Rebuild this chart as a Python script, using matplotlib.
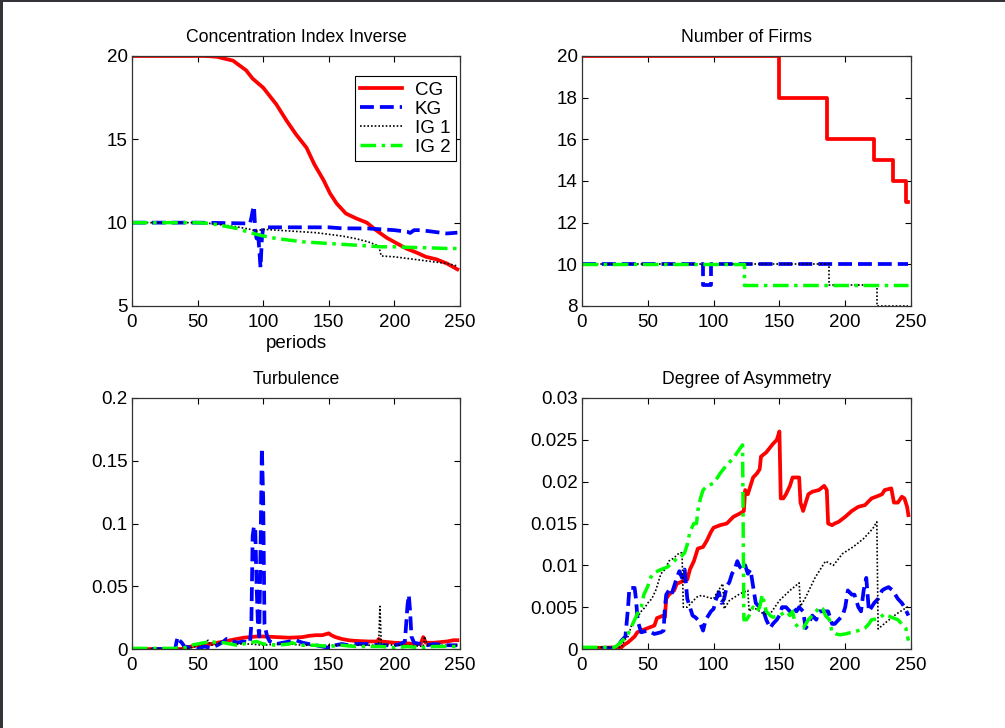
import matplotlib
matplotlib.use("Agg")
import matplotlib.pyplot as plt
from matplotlib.patches import Rectangle

plt.rcParams["font.family"] = ["Liberation Sans", "DejaVu Sans"]

# ---- Concentration Index Inverse (period, value) ----
conc_cg_t = [0, 55, 60, 65, 70, 77, 87, 92, 100, 105, 110, 118, 125, 133, 139, 146,
             151, 156, 163, 171, 179, 186, 194, 202, 209, 217, 224, 232, 240, 248]
conc_cg_v = [20, 20, 19.98, 19.95, 19.85, 19.72, 19.14, 18.64, 18.1, 17.6, 17.1, 16.1,
             15.3, 14.5, 13.5, 12.55, 11.75, 11.15, 10.55, 10.25, 10.0, 9.55, 9.1,
             8.75, 8.45, 8.2, 7.95, 7.8, 7.55, 7.2]
conc_kg_t = [0, 50, 90, 91, 92, 93, 94, 95, 96, 97, 98, 99, 100, 150, 160, 180, 190,
             200, 210, 212, 215, 220, 230, 240, 248]
conc_kg_v = [10, 10, 9.95, 10.3, 10.7, 11.0, 9.5, 9.05, 9.5, 8.4, 7.3, 9.0, 9.72, 9.72,
             9.66, 9.65, 9.6, 9.55, 9.45, 9.38, 9.55, 9.55, 9.45, 9.35, 9.4]
conc_ig1_t = [0, 50, 60, 70, 80, 90, 95, 100, 110, 120, 130, 140, 150, 160, 170, 180,
              188, 190, 200, 210, 220, 230, 240, 248]
conc_ig1_v = [10, 10, 9.95, 9.85, 9.75, 9.6, 9.5, 9.6, 9.55, 9.5, 9.45, 9.4, 9.3, 9.2,
              9.05, 8.85, 8.6, 8.0, 7.95, 7.85, 7.75, 7.65, 7.55, 7.4]
conc_ig2_t = [0, 50, 60, 70, 80, 90, 95, 100, 110, 120, 130, 140, 150, 160, 170, 180,
              190, 200, 210, 220, 230, 240, 248]
conc_ig2_v = [10, 10, 9.95, 9.8, 9.65, 9.4, 9.3, 9.2, 9.05, 8.95, 8.85, 8.8, 8.75, 8.7,
              8.65, 8.6, 8.55, 8.55, 8.52, 8.5, 8.48, 8.45, 8.45]

# ---- Number of firms: step changes (period where new level starts) ----
firms_cg_t = [0, 150, 186, 222, 236, 246, 248]
firms_cg_v = [20, 18, 16, 15, 14, 13, 13]
firms_kg_t = [0, 92, 98, 248]
firms_kg_v = [10, 9, 10, 10]
firms_ig1_t = [0, 188, 224, 248]
firms_ig1_v = [10, 9, 8, 8]
firms_ig2_t = [0, 123, 248]
firms_ig2_v = [10, 9, 9]

# ---- Turbulence ----
turb_cg_t = [0, 38, 40, 45, 50, 60, 70, 80, 85, 90, 95, 100, 110, 120, 130, 135, 140,
             145, 150, 152, 155, 160, 165, 170, 180, 187, 188, 190, 200, 210, 215, 220,
             222, 224, 230, 240, 245, 248]
turb_cg_v = [0, 0, 0.001, 0.002, 0.003, 0.004, 0.006, 0.008, 0.009, 0.0095, 0.01, 0.01,
             0.0095, 0.009, 0.0095, 0.0105, 0.011, 0.011, 0.0125, 0.011, 0.0095, 0.008,
             0.007, 0.0065, 0.006, 0.006, 0.008, 0.006, 0.005, 0.0045, 0.004, 0.004,
             0.0095, 0.005, 0.005, 0.006, 0.007, 0.007]
turb_kg_t = [0, 33, 34, 35, 36, 38, 40, 45, 50, 55, 60, 65, 70, 72, 75, 80, 85, 90, 91,
             92, 93, 94, 95, 96, 97, 98, 99, 100, 101, 103, 105, 110, 120, 125, 130,
             140, 145, 150, 155, 160, 165, 170, 180, 190, 200, 205, 208, 209, 210, 211,
             212, 213, 215, 220, 225, 230, 240, 248]
turb_kg_v = [0, 0, 0.006, 0.0096, 0.007, 0.005, 0.002, 0.001, 0.0, 0.002, 0.001, 0.003,
             0.006, 0.008, 0.007, 0.005, 0.006, 0.005, 0.02, 0.09, 0.098, 0.095, 0.05,
             0.02, 0.01, 0.08, 0.16, 0.12, 0.02, 0.01, 0.006, 0.004, 0.006, 0.007, 0.005,
             0.003, 0.002, 0.001, 0.003, 0.004, 0.003, 0.004, 0.004, 0.003, 0.003, 0.004,
             0.006, 0.02, 0.035, 0.043, 0.03, 0.01, 0.005, 0.004, 0.003, 0.004, 0.003,
             0.003]
turb_ig1_t = [0, 40, 45, 55, 58, 60, 70, 80, 90, 100, 110, 120, 130, 150, 170, 185, 188,
              189, 190, 200, 210, 222, 223, 225, 248]
turb_ig1_v = [0, 0, 0.001, 0.004, 0.007, 0.003, 0.005, 0.004, 0.004, 0.003, 0.004, 0.004,
              0.003, 0.003, 0.003, 0.003, 0.004, 0.034, 0.004, 0.003, 0.003, 0.002, 0.01,
              0.003, 0.003]
turb_ig2_t = [0, 33, 35, 40, 45, 50, 55, 60, 65, 70, 75, 80, 85, 90, 95, 100, 110, 120,
              122, 125, 130, 140, 150, 160, 170, 180, 190, 200, 210, 220, 230, 240, 248]
turb_ig2_v = [0.0005, 0.0005, 0.001, 0.001, 0.003, 0.004, 0.005, 0.006, 0.005, 0.005,
              0.004, 0.003, 0.004, 0.005, 0.006, 0.004, 0.003, 0.004, 0.005, 0.004, 0.003,
              0.003, 0.002, 0.003, 0.002, 0.002, 0.002, 0.001, 0.002, 0.001, 0.002, 0.002,
              0.002]

# ---- Degree of asymmetry ----
asym_cg_t = [0, 30, 32, 35, 40, 42, 45, 50, 55, 57, 62, 63, 64, 66, 70, 72, 75, 80, 82,
             85, 88, 92, 95, 98, 100, 105, 110, 115, 120, 123, 124, 126, 128, 130, 133,
             135, 136, 140, 145, 148, 150, 151, 153, 155, 158, 160, 165, 166, 168, 170,
             172, 175, 180, 184, 186, 187, 190, 192, 195, 200, 205, 210, 215, 220, 225,
             228, 230, 235, 237, 240, 243, 245, 247, 248]
asym_cg_v = [0.0001, 0.0002, 0.0005, 0.0008, 0.0015, 0.002, 0.0022, 0.0025, 0.0028,
             0.0037, 0.004, 0.0038, 0.006, 0.0065, 0.007, 0.0078, 0.008, 0.0083, 0.0095,
             0.0105, 0.012, 0.0122, 0.013, 0.014, 0.0145, 0.0148, 0.015, 0.0158, 0.0162,
             0.0165, 0.019, 0.0185, 0.0195, 0.0205, 0.021, 0.0215, 0.023, 0.0235, 0.0245,
             0.025, 0.026, 0.018, 0.018, 0.0185, 0.0195, 0.0205, 0.0205, 0.0175, 0.0165,
             0.0175, 0.0185, 0.0188, 0.019, 0.0195, 0.019, 0.015, 0.0148, 0.015, 0.0152,
             0.0158, 0.0165, 0.017, 0.0172, 0.018, 0.0183, 0.0185, 0.019, 0.0192, 0.0175,
             0.0175, 0.0182, 0.018, 0.017, 0.016]
asym_kg_t = [0, 25, 28, 30, 33, 35, 36, 40, 41, 42, 43, 45, 50, 55, 60, 62, 63, 64, 66,
             68, 70, 72, 74, 76, 78, 80, 82, 84, 86, 88, 90, 92, 94, 96, 98, 100, 102,
             104, 106, 108, 110, 112, 114, 116, 118, 120, 122, 124, 126, 128, 130, 132,
             135, 138, 140, 143, 145, 148, 150, 152, 155, 158, 160, 163, 165, 168, 170,
             172, 175, 178, 180, 183, 187, 190, 192, 195, 198, 200, 202, 205, 207, 210,
             212, 214, 216, 218, 220, 222, 225, 228, 230, 233, 236, 238, 240, 243, 245,
             248]
asym_kg_v = [0.0001, 0.0001, 0.0005, 0.001, 0.0015, 0.005, 0.0073, 0.0073, 0.006, 0.004,
             0.003, 0.002, 0.0022, 0.0018, 0.002, 0.0022, 0.005, 0.0065, 0.007, 0.0065,
             0.0075, 0.0085, 0.0093, 0.0085, 0.0095, 0.006, 0.005, 0.004, 0.0038, 0.0035,
             0.003, 0.0022, 0.0035, 0.004, 0.0045, 0.0048, 0.006, 0.0068, 0.0055, 0.006,
             0.0075, 0.008, 0.009, 0.0095, 0.0105, 0.0098, 0.0095, 0.01, 0.009, 0.0095,
             0.0075, 0.0055, 0.005, 0.0045, 0.0035, 0.0025, 0.003, 0.0035, 0.004, 0.005,
             0.005, 0.0045, 0.005, 0.0045, 0.005, 0.0045, 0.0025, 0.003, 0.004, 0.0035,
             0.0045, 0.0045, 0.0045, 0.003, 0.003, 0.0035, 0.004, 0.005, 0.007, 0.0065,
             0.0065, 0.005, 0.0045, 0.007, 0.0085, 0.0045, 0.005, 0.0055, 0.006, 0.007,
             0.0072, 0.0074, 0.007, 0.0065, 0.006, 0.0055, 0.005, 0.004]
asym_ig1_t = [0, 30, 32, 35, 38, 40, 43, 45, 48, 50, 53, 56, 58, 60, 63, 66, 69, 72, 74,
              76, 77, 80, 83, 86, 88, 91, 95, 100, 102, 107, 108, 112, 120, 126, 127,
              130, 138, 143, 150, 158, 165, 166, 170, 177, 185, 191, 198, 206, 214, 221,
              224, 225, 231, 239, 247, 248]
asym_ig1_v = [0.0002, 0.0002, 0.001, 0.0015, 0.003, 0.0035, 0.004, 0.0045, 0.005, 0.0055,
              0.006, 0.007, 0.008, 0.009, 0.0095, 0.0105, 0.0108, 0.0112, 0.0115, 0.0115,
              0.005, 0.005, 0.0055, 0.006, 0.0063, 0.0064, 0.0062, 0.006, 0.0066, 0.0078,
              0.0048, 0.0058, 0.0066, 0.007, 0.0045, 0.005, 0.0042, 0.0042, 0.0058, 0.007,
              0.0079, 0.0051, 0.0062, 0.0085, 0.0105, 0.010, 0.0114, 0.0122, 0.0132,
              0.0144, 0.0152, 0.0024, 0.0032, 0.0042, 0.005, 0.005]
asym_ig2_t = [0, 25, 28, 32, 35, 38, 40, 43, 45, 47, 50, 52, 54, 56, 60, 65, 70, 73, 75,
              78, 80, 82, 85, 87, 88, 90, 92, 95, 100, 103, 105, 110, 115, 118, 122, 123,
              125, 127, 128, 130, 133, 135, 137, 140, 143, 145, 150, 155, 158, 160, 162,
              165, 168, 170, 172, 175, 178, 180, 183, 185, 188, 190, 193, 196, 200, 205,
              210, 215, 218, 220, 225, 230, 235, 240, 243, 246, 248]
asym_ig2_v = [0.0002, 0.0002, 0.0006, 0.0012, 0.0018, 0.0028, 0.0035, 0.0045, 0.005,
              0.0065, 0.0075, 0.0085, 0.009, 0.0092, 0.0095, 0.0098, 0.0105, 0.011, 0.011,
              0.0115, 0.0125, 0.014, 0.015, 0.015, 0.0165, 0.018, 0.019, 0.0195, 0.0198,
              0.0205, 0.021, 0.022, 0.0228, 0.0235, 0.0244, 0.0035, 0.0035, 0.004, 0.0045,
              0.005, 0.0045, 0.005, 0.0065, 0.0045, 0.004, 0.0038, 0.004, 0.0045, 0.004,
              0.0045, 0.003, 0.0025, 0.0025, 0.003, 0.0035, 0.004, 0.0045, 0.005, 0.0048,
              0.004, 0.0035, 0.002, 0.0018, 0.0017, 0.0018, 0.002, 0.0022, 0.0025, 0.003,
              0.0035, 0.0036, 0.0042, 0.0038, 0.0035, 0.003, 0.0025, 0.001]

LABELS = ["CG", "KG", "IG 1", "IG 2"]
STYLES = [
    dict(color="#ff0000", lw=2.7, ls="-"),
    dict(color="#0000ff", lw=2.7, ls=(0, (3.7, 1.6))),
    dict(color="#000000", lw=1.2, ls=(0, (1, 1.2))),
    dict(color="#00ff00", lw=2.5, ls=(0, (4.5, 1.6, 1, 1.6))),
]


def style_axes(ax, title, ylim, yticks):
    ax.set_xlim(0, 250)
    ax.set_ylim(*ylim)
    ax.set_xticks([0, 50, 100, 150, 200, 250])
    ax.set_yticks(yticks)
    ax.set_title(title, fontsize=12.7, pad=10)
    ax.tick_params(direction="in", top=True, right=True, length=4, width=0.8,
                   labelsize=13.5, pad=3)
    ax.tick_params(axis="x", pad=6)
    for s in ax.spines.values():
        s.set_linewidth(0.9)
        s.set_color("#333333")


fig = plt.figure(figsize=(10.05, 7.28), dpi=100)
fig.patch.set_facecolor("white")

ax1 = fig.add_axes([0.1313, 0.5797, 0.3264, 0.3434])
ax2 = fig.add_axes([0.5791, 0.5797, 0.3274, 0.3434])
ax3 = fig.add_axes([0.1313, 0.1085, 0.3264, 0.3448])
ax4 = fig.add_axes([0.5791, 0.1085, 0.3274, 0.3448])

conc = [(conc_cg_t, conc_cg_v), (conc_kg_t, conc_kg_v),
        (conc_ig1_t, conc_ig1_v), (conc_ig2_t, conc_ig2_v)]
firms = [(firms_cg_t, firms_cg_v), (firms_kg_t, firms_kg_v),
         (firms_ig1_t, firms_ig1_v), (firms_ig2_t, firms_ig2_v)]
turb = [(turb_cg_t, turb_cg_v), (turb_kg_t, turb_kg_v),
        (turb_ig1_t, turb_ig1_v), (turb_ig2_t, turb_ig2_v)]
asym = [(asym_cg_t, asym_cg_v), (asym_kg_t, asym_kg_v),
        (asym_ig1_t, asym_ig1_v), (asym_ig2_t, asym_ig2_v)]

for (t, v), st, lab in zip(conc, STYLES, LABELS):
    ax1.plot(t, v, label=lab, **st)
for (t, v), st in zip(firms, STYLES):
    ax2.plot(t, v, drawstyle="steps-post", **st)
for (t, v), st in zip(turb, STYLES):
    ax3.plot(t, v, **st)
for (t, v), st in zip(asym, STYLES):
    ax4.plot(t, v, **st)

style_axes(ax1, "Concentration Index Inverse", (5, 20), [5, 10, 15, 20])
ax1.set_xlabel("periods", fontsize=13.5, labelpad=3)
style_axes(ax2, "Number of Firms", (8, 20), [8, 10, 12, 14, 16, 18, 20])
style_axes(ax3, "Turbulence", (0, 0.2), [0, 0.05, 0.1, 0.15, 0.2])
ax3.set_yticklabels(["0", "0.05", "0.1", "0.15", "0.2"])
style_axes(ax4, "Degree of Asymmetry", (0, 0.03), [0, 0.005, 0.01, 0.015, 0.02, 0.025, 0.03])
ax4.set_yticklabels(["0", "0.005", "0.01", "0.015", "0.02", "0.025", "0.03"])

leg = ax1.legend(loc="upper right", bbox_to_anchor=(0.988, 0.92), borderaxespad=0,
                 fontsize=13.5, handlelength=2.2, labelspacing=0.1, borderpad=0.3,
                 handletextpad=0.7, fancybox=False, framealpha=1)
leg.get_frame().set_edgecolor("#000000")
leg.get_frame().set_linewidth(0.8)

# dark window edge along top and left
fig.add_artist(Rectangle((0, 1 - 2 / 728), 1, 2 / 728, transform=fig.transFigure,
                         color="#333338", lw=0))
fig.add_artist(Rectangle((0, 0), 2.5 / 1005, 1, transform=fig.transFigure,
                         color="#333338", lw=0))

fig.savefig("out.png", dpi=100)
